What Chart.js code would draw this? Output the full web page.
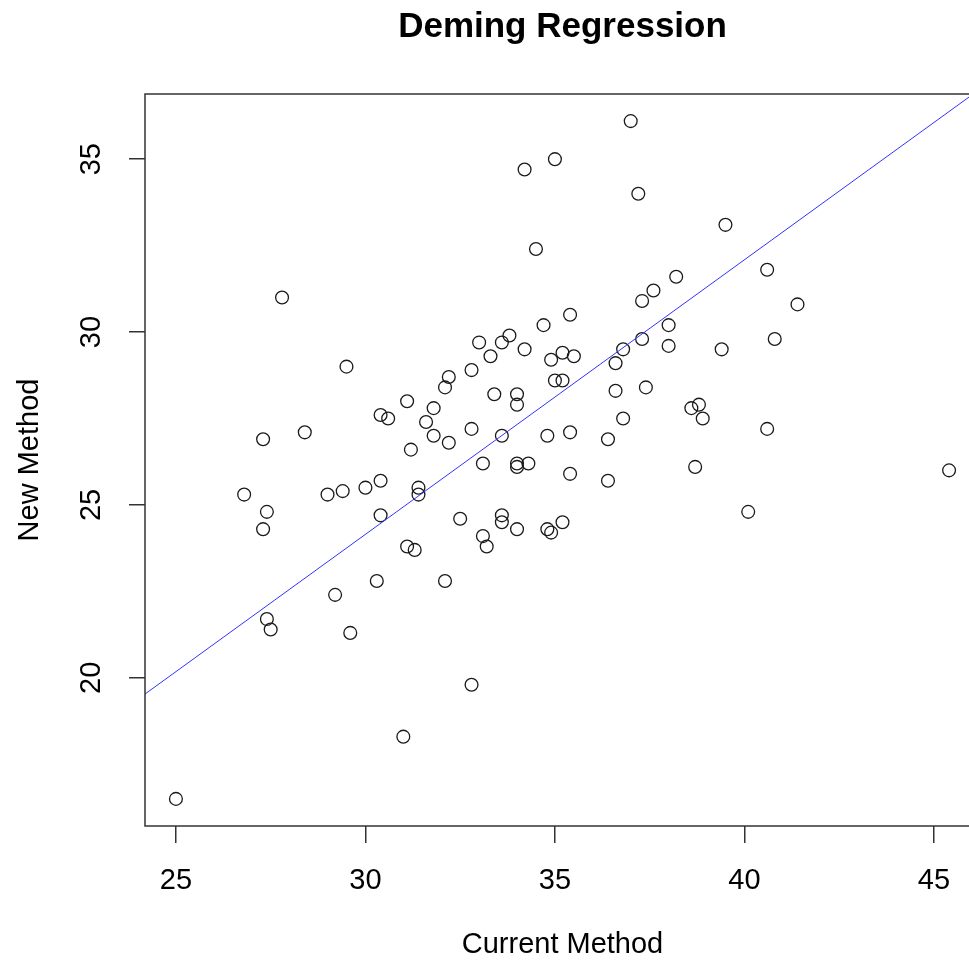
<!DOCTYPE html>
<html>
<head>
<meta charset="utf-8">
<script src="https://cdn.jsdelivr.net/npm/chart.js@4/dist/chart.umd.min.js"></script>
<style>
  html, body { margin: 0; padding: 0; background: #fff; overflow: hidden; }
  #janela { width: 969px; height: 964px; overflow: hidden; }
</style>
</head>
<body>
<div id="janela">
  <canvas id="grafico" width="980" height="964"></canvas>
</div>
<script>
const currentMethod = [
  25.0, 26.8, 27.3, 27.4, 27.3, 27.8, 28.4, 27.4, 27.5, 29.2,
  29.5, 29.0, 29.4, 29.6, 30.0, 30.4, 30.6, 30.4, 30.4, 30.3,
  31.1, 31.2, 31.0, 31.1, 31.3, 31.4, 31.4, 31.6, 31.8, 31.8,
  32.1, 32.2, 32.2, 32.1, 32.5, 32.8, 32.8, 32.8, 33.0, 33.1,
  33.2, 33.1, 33.3, 33.6, 33.8, 33.4, 33.6, 33.6, 33.6, 34.0,
  34.0, 34.0, 34.0, 34.0, 34.2, 34.2, 34.3, 34.5, 34.7, 34.8,
  34.8, 34.9, 34.9, 35.0, 35.2, 35.0, 35.2, 35.2, 35.4, 35.4,
  35.4, 35.5, 36.4, 36.4, 36.6, 36.6, 36.8, 36.8, 37.0, 37.2,
  37.3, 37.3, 37.4, 37.6, 38.0, 38.0, 38.2, 38.6, 38.8, 38.9,
  38.7, 39.4, 39.5, 40.1, 40.6, 40.6, 40.8, 41.4, 45.4
];
const newMethod = [
  16.5, 25.3, 26.9, 24.8, 24.3, 31.0, 27.1, 21.7, 21.4, 22.4,
  29.0, 25.3, 25.4, 21.3, 25.5, 27.6, 27.5, 25.7, 24.7, 22.8,
  28.0, 26.6, 18.3, 23.8, 23.7, 25.5, 25.3, 27.4, 27.8, 27.0,
  28.4, 28.7, 26.8, 22.8, 24.6, 28.9, 27.2, 19.8, 29.7, 26.2,
  23.8, 24.1, 29.3, 29.7, 29.9, 28.2, 27.0, 24.7, 24.5, 28.2,
  27.9, 26.2, 26.1, 24.3, 34.7, 29.5, 26.2, 32.4, 30.2, 27.0,
  24.3, 24.2, 29.2, 28.6, 28.6, 35.0, 29.4, 24.5, 30.5, 27.1,
  25.9, 29.3, 26.9, 25.7, 29.1, 28.3, 29.5, 27.5, 36.1, 34.0,
  30.9, 29.8, 28.4, 31.2, 30.2, 29.6, 31.6, 27.8, 27.9, 27.5,
  26.1, 29.5, 33.1, 24.8, 31.8, 27.2, 29.8, 30.8, 26.0
];
const xTicks = [25, 30, 35, 40, 45];
const yTicks = [20, 25, 30, 35];

// coeficientes da reta de Deming
const demingIntercept = 0.33;
const demingSlope = 0.794;

// faixa dos eixos como no R (4% de folga)
const faixa = (v) => {
  const min = Math.min(...v), max = Math.max(...v);
  const folga = (max - min) * 0.04;
  return [min - folga, max + folga];
};
const [xMin, xMax] = faixa(currentMethod);
const [yMin, yMax] = faixa(newMethod);

const fonte = 'Liberation Sans, Arial, Helvetica, sans-serif';
const corEixo = '#333';

const pontos = currentMethod.map((x, i) => ({ x, y: newMethod[i] }));
const reta = [xMin, xMax].map(x => ({ x, y: demingIntercept + demingSlope * x }));

const moldura = {
  id: 'moldura',
  afterDraw(chart) {
    const { ctx, chartArea: a } = chart;
    ctx.save();
    ctx.strokeStyle = corEixo;
    ctx.lineWidth = 1.5;
    ctx.strokeRect(a.left, a.top, a.right - a.left, a.bottom - a.top);
    ctx.restore();
  }
};

new Chart(document.getElementById('grafico'), {
  type: 'scatter',
  data: {
    datasets: [
      {
        label: 'Pontos',
        data: pontos,
        pointStyle: 'circle',
        pointRadius: 6.4,
        pointBorderWidth: 1.3,
        pointBorderColor: '#1a1a1a',
        pointBackgroundColor: 'rgba(0,0,0,0)',
        order: 2
      },
      {
        type: 'line',
        label: 'Deming',
        data: reta,
        borderColor: 'rgb(50,50,255)',
        borderWidth: 1,
        pointRadius: 0,
        fill: false,
        order: 1
      }
    ]
  },
  options: {
    responsive: false,
    animation: false,
    layout: { padding: 0, autoPadding: false },
    plugins: {
      legend: { display: false },
      tooltip: { enabled: false },
      title: {
        display: true,
        text: 'Deming Regression',
        fullSize: false,
        color: '#000',
        font: { family: fonte, size: 35, weight: 'bold' },
        padding: { top: 6, bottom: 46 }
      }
    },
    scales: {
      x: {
        type: 'linear',
        min: xMin,
        max: xMax,
        afterBuildTicks: (s) => { s.ticks = xTicks.map(v => ({ value: v })); },
        afterFit: (s) => { s.height = 138; },
        grid: { display: true, drawOnChartArea: false, drawTicks: true, tickLength: 17, color: corEixo, lineWidth: 1.5 },
        border: { display: false },
        ticks: {
          color: '#000',
          padding: 21,
          maxRotation: 0,
          font: { family: fonte, size: 29 },
          callback: (v) => String(v)
        },
        title: {
          display: true,
          text: 'Current Method',
          color: '#000',
          font: { family: fonte, size: 29 },
          padding: { top: 0, bottom: 2 }
        }
      },
      y: {
        type: 'linear',
        min: yMin,
        max: yMax,
        afterBuildTicks: (s) => { s.ticks = yTicks.map(v => ({ value: v })); },
        afterFit: (s) => { s.width = 145; },
        grid: { display: true, drawOnChartArea: false, drawTicks: true, tickLength: 16, color: corEixo, lineWidth: 1.5 },
        border: { display: false },
        ticks: {
          color: '#000',
          padding: 21,
          minRotation: 90,
          maxRotation: 90,
          crossAlign: 'center',
          font: { family: fonte, size: 29 },
          callback: (v) => String(v)
        },
        title: {
          display: true,
          text: 'New Method',
          color: '#000',
          font: { family: fonte, size: 29 },
          padding: { top: 13, bottom: 0 }
        }
      }
    }
  },
  plugins: [moldura]
});
</script>
</body>
</html>
